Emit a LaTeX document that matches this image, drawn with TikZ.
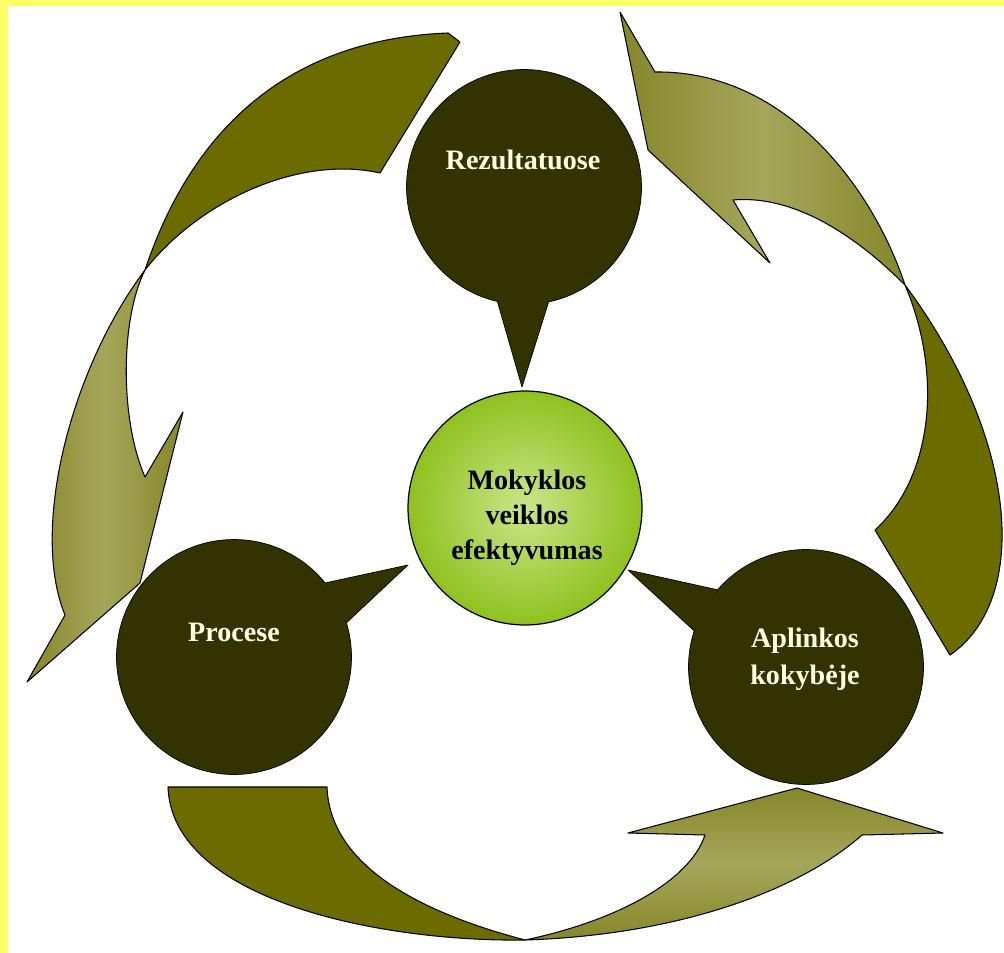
\documentclass[tikz,border=0pt]{standalone}
\usepackage{fontspec}
\setmainfont{Liberation Serif}
\usepackage{tikz}
\usetikzlibrary{calc}
\definecolor{frameyellow}{HTML}{FFFF66}
\definecolor{bubbleolive}{HTML}{333300}
\definecolor{banddark}{HTML}{6B6B00}
\definecolor{bandlight}{HTML}{86862A}
\definecolor{bandhigh}{HTML}{A6A65A}
\definecolor{limeout}{HTML}{8EC21F}
\definecolor{limein}{HTML}{CBE58A}
\definecolor{creamtext}{HTML}{FFFFE6}
\tikzset{%
  bubble/.style={circle, draw=black, fill=bubbleolive, minimum size=4.7cm, inner sep=0pt},
  core/.style={circle, draw=black, line width=0.7pt, inner color=limein, outer color=limeout, minimum size=4.68cm, inner sep=0pt},
  bubbletext/.style={text=creamtext, font=\bfseries\fontsize{16}{21}\selectfont, align=center},
  coretext/.style={text=black, font=\bfseries\fontsize{16}{20}\selectfont, align=center},
  frontband/.style={fill=banddark, draw=black, line width=0.6pt, line join=round},
  backband/.style={draw=black, line width=0.6pt, line join=round}
}

\begin{document}
\begin{tikzpicture}[x=0.02cm, y=-0.02cm]

\useasboundingbox (0,0) rectangle (1004,953);
\fill [frameyellow] (0,0) rectangle (1004,953);
\fill [white] (8,6) rectangle (1004,953);

% rodykle kaireje
\path [frontband] (460,42) -- (380,173)
  .. controls (300,155) and (200,200) .. (145,270)
  .. controls (185,150) and (270,40) .. (448,33) -- cycle;
\path [backband, left color=bandlight, right color=bandlight, middle color=bandhigh] (145,270)
  .. controls (70,370) and (30,530) .. (65,615)
  -- (27,682) -- (140,583) -- (183,412) -- (145,477)
  .. controls (120,420) and (120,320) .. (145,270) -- cycle;

% rodykle desineje
\path [backband, shading angle=45, left color=bandlight, right color=bandlight, middle color=bandhigh] (620,12) -- (655,72)
  .. controls (780,70) and (870,180) .. (905,285)
  .. controls (850,230) and (790,195) .. (733,200)
  -- (770,263) -- (648,150) -- cycle;
\path [frontband] (905,285)
  .. controls (945,380) and (930,480) .. (875,530)
  -- (950,655)
  .. controls (1030,600) and (1020,440) .. (905,285) -- cycle;

% rodykle apacioje
\path [frontband] (168,787) -- (327,787)
  .. controls (330,870) and (430,915) .. (525,940)
  .. controls (380,942) and (172,900) .. (168,787) -- cycle;
\path [backband, top color=bandlight, bottom color=bandlight, middle color=bandhigh] (525,940)
  .. controls (620,920) and (690,880) .. (705,835)
  -- (628,833) -- (797,788) -- (943,833) -- (862,835)
  .. controls (800,890) and (680,935) .. (525,940) -- cycle;

\node (rez) [bubble] at (524,187) {};
\node (proc) [bubble] at (234,657) {};
\node (apl) [bubble] at (806,667) {};

\coordinate (rezTip) at (522,387);
\coordinate (procTip) at (408,565);
\coordinate (aplTip) at (628,570);

\fill [bubbleolive] (rez.-103) -- (rezTip) -- (rez.-78) -- cycle;
\draw [line join=round] (rez.-103) -- (rezTip) -- (rez.-78);
\fill [bubbleolive] (proc.39) -- (procTip) -- (proc.17) -- cycle;
\draw [line join=round] (proc.39) -- (procTip) -- (proc.17);
\fill [bubbleolive] (apl.139) -- (aplTip) -- (apl.162) -- cycle;
\draw [line join=round] (apl.139) -- (aplTip) -- (apl.162);

\node (mok) [core] at (525,508) {};

\node (rezLabel) [bubbletext] at (523,160) {Rezultatuose};
\node (procLabel) [bubbletext] at (234,632) {Procese};
\node (aplLabel) [bubbletext] at (805,659) {Aplinkos\\kokybėje};
\node (mokLabel) [coretext] at (527,518) {Mokyklos\\veiklos\\efektyvumas};
\end{tikzpicture}
\end{document}
